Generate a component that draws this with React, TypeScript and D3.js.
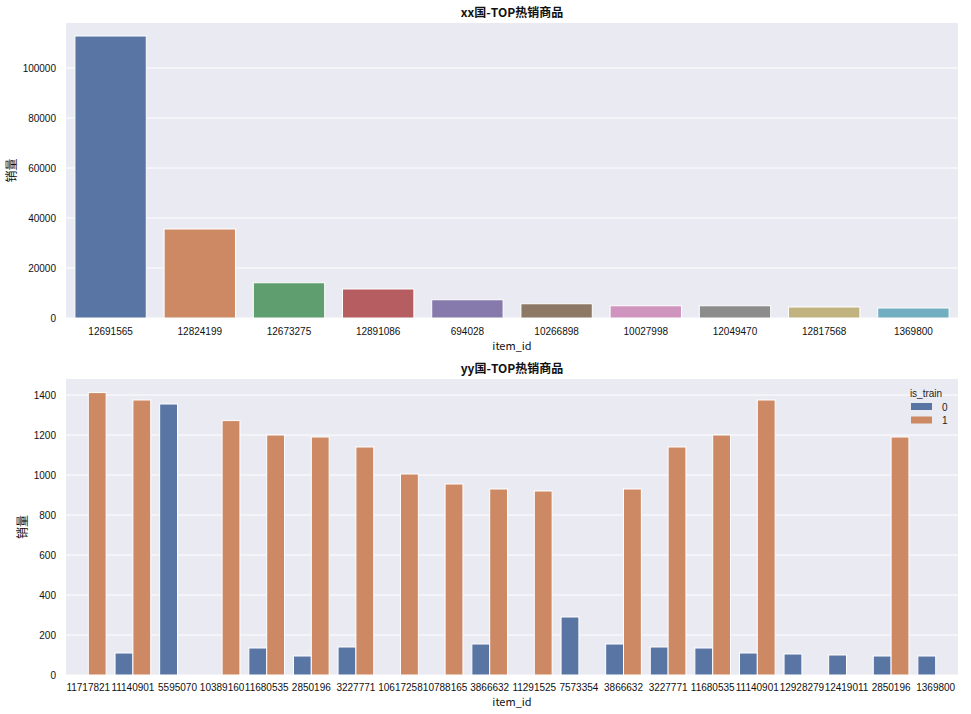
import React from "react";
import * as d3 from "d3";

const topItems = ["12691565", "12824199", "12673275", "12891086", "694028", "10266898", "10027998", "12049470", "12817568", "1369800"];
const topSales = [112800, 35600, 14100, 11600, 7300, 5700, 4900, 4900, 4400, 4000];
const topColors = ["#5975A4", "#CC8963", "#5F9E6E", "#B55D60", "#857AAB", "#8D7866", "#D095BF", "#8C8C8C", "#C1B37F", "#71AEC0"];
const topTicks = [0, 20000, 40000, 60000, 80000, 100000];

const bottomItems = ["11717821", "11140901", "5595070", "10389160", "11680535", "2850196", "3227771", "10617258", "10788165", "3866632", "11291525", "7573354", "3866632", "3227771", "11680535", "11140901", "12928279", "12419011", "2850196", "1369800"];
const trainNo: (number | null)[] = [null, 110, 1355, null, 135, 95, 140, null, null, 155, null, 290, 155, 140, 135, 110, 105, 100, 95, 95];
const trainYes: (number | null)[] = [1412, 1375, null, 1272, 1200, 1190, 1140, 1005, 955, 930, 920, null, 930, 1140, 1200, 1375, null, null, 1190, null];
const bottomTicks = [0, 200, 400, 600, 800, 1000, 1200, 1400];
const hueLabels = ["0", "1"];
const hueColors = ["#5975A4", "#CC8963"];

const BG = "#EAEAF2";
const CJK = "'Noto Sans CJK SC', sans-serif";
const LAT = "'Liberation Sans', Arial, sans-serif";

const X0 = 66, X1 = 958;

export default function App() {
  // top chart
  const tTop = 23, tBot = 318;
  const xT = d3.scaleBand<number>().domain(d3.range(topItems.length)).range([X0, X1]).paddingInner(0.2).paddingOuter(0.1);
  const yT = d3.scaleLinear().domain([0, 118000]).range([tBot, tTop]);

  // bottom chart
  const bTop = 379, bBot = 675;
  const xB = d3.scaleBand<number>().domain(d3.range(bottomItems.length)).range([X0, X1]);
  const yB = d3.scaleLinear().domain([0, 1480]).range([bBot, bTop]);
  const bw = xB.bandwidth() * 0.4;

  const series = [trainNo, trainYes];

  return (
    <svg width={971} height={714} style={{ position: "absolute", left: 0, top: 0, background: "#fff" }}>
      {/* ---- top ---- */}
      <text x={(X0 + X1) / 2} y={17} textAnchor="middle" fontFamily={CJK} fontSize={12} fontWeight="bold" fill="#111">xx国-TOP热销商品</text>
      <rect x={X0} y={tTop} width={X1 - X0} height={tBot - tTop} fill={BG} />
      {topTicks.map((t) => (
        <g key={"tt" + t}>
          <line x1={X0} x2={X1} y1={yT(t)} y2={yT(t)} stroke="#fff" strokeWidth={1} />
          <text x={56} y={yT(t) + 3.5} textAnchor="end" fontFamily={LAT} fontSize={10} fill="#111">{t}</text>
        </g>
      ))}
      {topSales.map((v, i) => (
        <rect key={"tb" + i} x={xT(i)!} y={yT(v)} width={xT.bandwidth()} height={yT(0) - yT(v)} fill={topColors[i]} stroke="#fff" strokeWidth={1} />
      ))}
      {topItems.map((s, i) => (
        <text key={"tx" + i} x={xT(i)! + xT.bandwidth() / 2} y={335} textAnchor="middle" fontFamily={LAT} fontSize={10} fill="#111">{s}</text>
      ))}
      <text x={(X0 + X1) / 2} y={350} textAnchor="middle" fontFamily={CJK} fontSize={11} fill="#111">item_id</text>
      <text transform={`translate(16,${(tTop + tBot) / 2}) rotate(-90)`} textAnchor="middle" fontFamily={CJK} fontSize={12} fill="#111">销量</text>

      {/* ---- bottom ---- */}
      <text x={(X0 + X1) / 2} y={373} textAnchor="middle" fontFamily={CJK} fontSize={12} fontWeight="bold" fill="#111">yy国-TOP热销商品</text>
      <rect x={X0} y={bTop} width={X1 - X0} height={bBot - bTop} fill={BG} />
      {bottomTicks.map((t) => (
        <g key={"bt" + t}>
          <line x1={X0} x2={X1} y1={yB(t)} y2={yB(t)} stroke="#fff" strokeWidth={1} />
          <text x={56} y={yB(t) + 3.5} textAnchor="end" fontFamily={LAT} fontSize={10} fill="#111">{t}</text>
        </g>
      ))}
      {series.map((arr, h) =>
        arr.map((v, i) =>
          v == null ? null : (
            <rect key={"bb" + h + "-" + i} x={xB(i)! + xB.bandwidth() * 0.1 + h * bw} y={yB(v)} width={bw} height={yB(0) - yB(v)} fill={hueColors[h]} stroke="#fff" strokeWidth={1} />
          )
        )
      )}
      {bottomItems.map((s, i) => (
        <text key={"bx" + i} x={xB(i)! + xB.bandwidth() / 2} y={691} textAnchor="middle" fontFamily={LAT} fontSize={10} fill="#111">{s}</text>
      ))}
      <text x={(X0 + X1) / 2} y={706} textAnchor="middle" fontFamily={CJK} fontSize={11} fill="#111">item_id</text>
      <text transform={`translate(27,${(bTop + bBot) / 2}) rotate(-90)`} textAnchor="middle" fontFamily={CJK} fontSize={12} fill="#111">销量</text>

      {/* legend */}
      <text x={926} y={397} textAnchor="middle" fontFamily={LAT} fontSize={10} fill="#222">is_train</text>
      {hueLabels.map((l, i) => (
        <g key={"lg" + i}>
          <rect x={911} y={403 + i * 13.5} width={21} height={7} fill={hueColors[i]} />
          <text x={942} y={410.5 + i * 13.5} fontFamily={LAT} fontSize={10} fill="#222">{l}</text>
        </g>
      ))}
    </svg>
  );
}
